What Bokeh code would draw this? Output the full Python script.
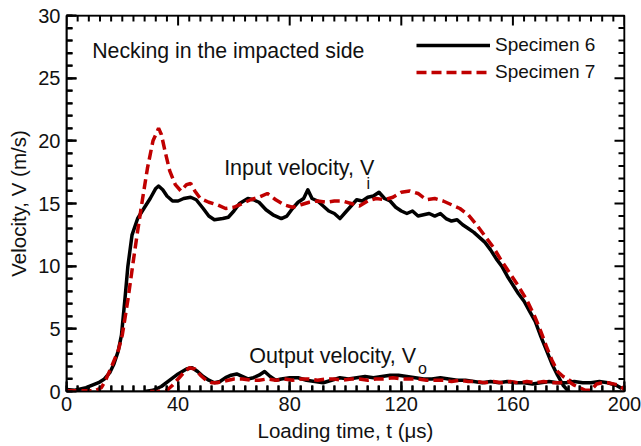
from bokeh.plotting import figure
from bokeh.models import (Range1d, FixedTicker, Legend, LegendItem, Label)
from bokeh.embed import file_html
from bokeh.resources import INLINE

# ---- data ----
s6_in_t = [0, 3, 7, 11.5, 13.6, 15.5, 17, 18.5, 19.7, 21, 22, 23.5, 25.5, 28, 30, 32, 33, 34.5, 36, 38, 40,
           42, 44.5, 46.5, 49, 51, 53, 56, 58, 60, 62, 65, 67, 69, 71.5, 74, 77, 79, 81, 83, 85, 86.5,
           88, 90, 92, 94, 96, 98, 100, 102, 104, 106, 108, 110, 112, 114, 116, 118, 120, 122, 124,
           126, 128, 130, 132, 134, 136, 138, 140, 142, 144, 146, 148, 150, 152, 154, 156, 158, 160,
           162, 164, 166, 168, 170, 172, 174, 176, 178, 180, 181.5]
s6_in_v = [0.15, 0.1, 0.3, 0.7, 1.0, 1.5, 2.2, 3.2, 4.5, 7.5, 10.0, 12.5, 13.8, 14.7, 15.4, 16.2, 16.4, 16.1,
           15.6, 15.2, 15.2, 15.4, 15.5, 15.3, 14.6, 14.0, 13.7, 13.8, 13.9, 14.4, 15.0, 15.4, 15.3, 15.1,
           14.5, 14.1, 13.8, 14.0, 14.6, 15.1, 15.4, 16.1, 15.4, 15.2, 14.8, 14.4, 14.2, 13.8, 14.3, 14.8,
           15.3, 15.2, 15.5, 15.6, 15.9, 15.4, 15.2, 14.7, 14.4, 14.2, 14.4, 14.0, 14.1, 14.2, 14.0, 14.2,
           13.8, 13.6, 13.7, 13.3, 13.0, 12.7, 12.3, 11.9, 11.3, 10.6, 10.0, 9.2, 8.5, 7.8, 7.2, 6.4, 5.6,
           4.4, 3.3, 2.2, 1.3, 0.5, 0.0, -0.3]

s7_in_t = [0, 5, 10, 12.5, 14, 16, 18.6, 20, 22, 24, 25.5, 27, 29, 31, 33, 34, 35.5, 37, 39, 41, 43, 44.5,
           46, 48, 51, 54, 57, 60, 63, 66, 69, 72, 75, 78, 81, 84, 87, 90, 93, 96, 99, 102, 105, 108, 111,
           114, 117, 120, 123, 126, 129, 132, 135, 138, 141, 144, 147, 150, 153, 156, 159, 162, 165, 168,
           170, 172, 174, 176, 178, 181]
s7_in_v = [0.05, 0.05, 0.05, 0.3, 0.9, 1.9, 3.3, 4.5, 7.3, 10.5, 12.8, 15.0, 17.8, 20.0, 21.0, 20.5, 19.0,
           17.6, 16.5, 16.0, 16.5, 16.6, 16.0, 15.4, 15.1, 14.9, 14.6, 14.7, 15.0, 15.3, 15.5, 15.8, 15.3,
           14.9, 14.7, 14.9, 15.1, 15.2, 15.1, 15.2, 15.2, 15.0, 14.8, 15.2, 15.4, 15.3, 15.5, 15.9, 16.0,
           15.8, 15.3, 15.4, 15.2, 14.9, 14.6, 14.1, 13.3, 12.4, 11.5, 10.4, 9.4, 8.4, 7.3, 5.9, 4.8, 3.6,
           2.5, 1.6, 1.2, 0.8]

s6_out_t = [28, 31, 34, 37, 40, 43, 45, 47, 49, 51, 53, 55, 57, 59, 61, 63, 65, 67, 69, 71, 73, 75, 77, 80,
            83, 86, 89, 92, 95, 98, 101, 104, 107, 110, 113, 116, 119, 122, 125, 128, 131, 134, 137, 140,
            143, 146, 149, 152, 155, 158, 161, 164, 167, 170, 173, 176, 179, 182, 185, 188, 191, 194, 197, 199]
s6_out_v = [0.0, 0.1, 0.4, 0.9, 1.4, 1.8, 1.9, 1.6, 1.2, 0.9, 0.7, 0.8, 1.1, 1.3, 1.4, 1.2, 1.0, 1.1, 1.3,
            1.6, 1.2, 0.9, 1.0, 1.1, 1.1, 0.9, 0.8, 0.7, 0.9, 1.1, 1.0, 1.1, 1.2, 1.1, 1.2, 1.3, 1.3, 1.2,
            1.1, 1.0, 1.0, 1.1, 1.0, 0.9, 0.9, 0.8, 0.7, 0.8, 0.7, 0.8, 0.7, 0.7, 0.6, 0.7, 0.8, 0.7, 0.7,
            0.8, 0.7, 0.7, 0.8, 0.7, 0.5, 0.25]

s7_out_t = [30, 33, 36, 38, 40, 42, 44, 46, 48, 50, 52, 54, 56, 58, 60, 63, 66, 69, 72, 75, 78, 81, 84, 87,
            90, 93, 96, 99, 102, 105, 108, 111, 114, 117, 120, 123, 126, 129, 132, 135, 138, 141, 144, 147,
            150, 153, 156, 159, 162, 165, 168, 171, 174, 177, 180, 182, 184, 186, 188, 190, 192, 194, 196,
            198, 200]
s7_out_v = [0.0, 0.0, 0.1, 0.5, 1.0, 1.5, 1.9, 1.8, 1.3, 0.9, 0.7, 0.7, 0.8, 0.9, 1.0, 1.0, 0.9, 0.9, 1.0,
            0.9, 1.0, 0.9, 1.0, 1.0, 0.9, 1.0, 1.0, 0.9, 1.0, 1.0, 0.9, 1.0, 1.0, 1.1, 1.0, 1.0, 1.0, 0.9,
            0.9, 0.9, 0.8, 0.9, 0.8, 0.8, 0.7, 0.8, 0.7, 0.8, 0.7, 0.8, 0.7, 0.8, 0.7, 0.7, 0.8, 0.5, 0.3,
            0.1, 0.1, 0.6, 0.7, 0.7, 0.6, 0.5, 0.15]

# axis ticks
x_major_ticks = [0, 40, 80, 120, 160, 200]
x_minor_ticks = list(range(0, 201, 4))
y_major_ticks = [0, 5, 10, 15, 20, 25, 30]
y_minor_ticks = list(range(0, 31, 1))
X_MIN, X_MAX = 0, 200
Y_MIN, Y_MAX = 0, 30

legend_labels = ["Specimen 6", "Specimen 7"]
title_text = "Necking in the impacted side"
x_label = "Loading time, t (\u03bcs)"
y_label = "Velocity, V (m/s)"

FONT = "Liberation Sans"
BLACK = "#000000"
RED = "#c00000"
TXT = "#111111"

W, H = 641, 446
BL, BR, BT, BB = 66, 17, 15, 55
FRAME_W, FRAME_H = W - BL - BR, H - BT - BB
UX = (X_MAX - X_MIN) / FRAME_W   # data units per pixel
UY = (Y_MAX - Y_MIN) / FRAME_H

p = figure(width=W, height=H, output_backend="svg", toolbar_location=None,
           x_range=Range1d(X_MIN, X_MAX), y_range=Range1d(Y_MIN, Y_MAX),
           min_border_left=BL, min_border_right=BR, min_border_top=BT, min_border_bottom=BB,
           x_axis_label=x_label, y_axis_label=y_label)
p.grid.visible = False
p.outline_line_color = BLACK
p.outline_line_width = 1.5
p.background_fill_color = "white"
p.border_fill_color = "white"

xa = p.xaxis[0]
ya = p.yaxis[0]
xa.ticker = FixedTicker(ticks=x_major_ticks, minor_ticks=x_minor_ticks)
ya.ticker = FixedTicker(ticks=y_major_ticks, minor_ticks=y_minor_ticks)
for ax in (xa, ya):
    ax.axis_line_color = BLACK
    ax.axis_line_width = 1.5
    ax.major_tick_line_color = BLACK
    ax.major_tick_line_width = 2
    ax.minor_tick_line_color = BLACK
    ax.minor_tick_line_width = 2
    ax.major_tick_in = 10
    ax.major_tick_out = 0
    ax.minor_tick_in = 6
    ax.minor_tick_out = 0
    ax.major_label_text_font = FONT
    ax.major_label_text_font_size = "20px"
    ax.major_label_text_color = TXT
    ax.axis_label_text_font = FONT
    ax.axis_label_text_font_size = "20.5px"
    ax.axis_label_text_font_style = "normal"
    ax.axis_label_text_color = TXT
xa.major_label_standoff = 5
xa.axis_label_standoff = 5
ya.major_label_standoff = 6
ya.axis_label_standoff = 5

# inward tick marks on all four frame edges, each edge drawn as one comb-shaped line
MAJ, MIN = 10, 6


def comb(positions, majors, edge_value, inward, vertical_ticks):
    a, b = [], []
    for pos in positions:
        ln = (MAJ if pos in majors else MIN) * inward
        if vertical_ticks:
            a += [pos, pos, pos]
            b += [edge_value, edge_value + ln * UY, edge_value]
        else:
            a += [edge_value, edge_value + ln * UX, edge_value]
            b += [pos, pos, pos]
    return a, b


for xs_, ys_ in (comb(x_minor_ticks, x_major_ticks, Y_MIN, 1, True),
                 comb(x_minor_ticks, x_major_ticks, Y_MAX, -1, True),
                 comb(y_minor_ticks, y_major_ticks, X_MIN, 1, False),
                 comb(y_minor_ticks, y_major_ticks, X_MAX, -1, False)):
    p.line(xs_, ys_, line_color=BLACK, line_width=2, line_join="bevel")

r6 = p.line(s6_in_t, s6_in_v, line_color=BLACK, line_width=3.5, line_join="round")
r7 = p.line(s7_in_t, s7_in_v, line_color=RED, line_width=3.5, line_dash="10 5")
p.line(s6_out_t, s6_out_v, line_color=BLACK, line_width=3.5, line_join="round")
p.line(s7_out_t, s7_out_v, line_color=RED, line_width=3.5, line_dash="10 5")

legend = Legend(items=[LegendItem(label=legend_labels[0], renderers=[r6]),
                       LegendItem(label=legend_labels[1], renderers=[r7])],
                location=(350, 308), padding=0, margin=0, spacing=5,
                glyph_width=74, glyph_height=20, label_height=20, label_standoff=5,
                label_text_font=FONT, label_text_font_size="19px", label_text_color=TXT,
                background_fill_alpha=0, border_line_color=None)
p.add_layout(legend, "center")


def add_label(x, y, text, size):
    p.add_layout(Label(x=x, y=y, text=text, text_font=FONT, text_font_size=size,
                       text_color=TXT, text_baseline="alphabetic", text_align="left"))


add_label(9.2, 27.2, title_text, "21.3px")
add_label(56.5, 17.8, "Input velocity, V", "21.5px")
add_label(107.5, 16.6, "i", "16px")
add_label(65.5, 2.87, "Output velocity, V", "21.5px")
add_label(126.0, 1.84, "o", "16px")

open("out.html", "w").write(file_html(p, INLINE))
